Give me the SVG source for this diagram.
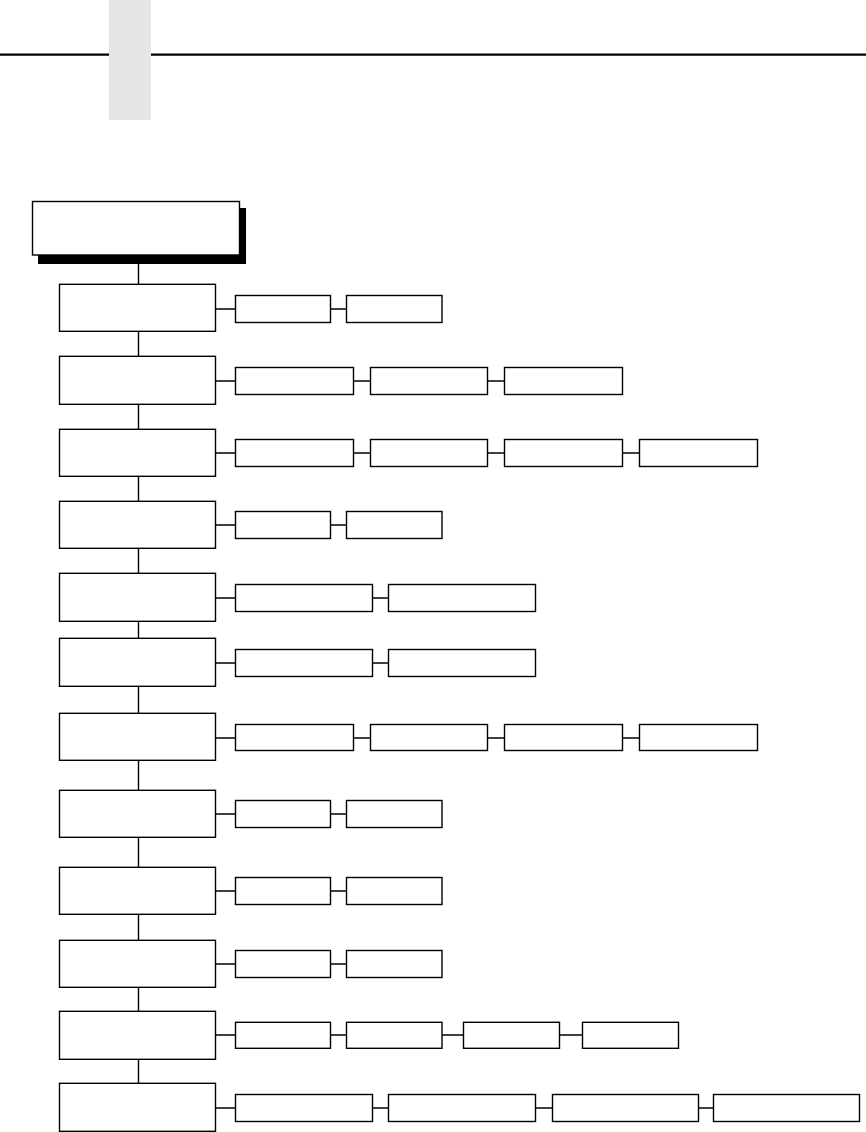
<svg xmlns="http://www.w3.org/2000/svg" width="866" height="1132" viewBox="0 0 866 1132">
<style>
.box{fill:#fff;stroke:#000;stroke-width:1.4}
.c{stroke:#000;stroke-width:1.4;fill:none}
</style>
<rect x="0" y="0" width="866" height="1132" fill="#fff"/>
<g id="header">
<line x1="0" y1="54.7" x2="866" y2="54.7" stroke="#000" stroke-width="2.3"/>
<rect x="109" y="0" width="42" height="120" fill="#e6e6e6"/>
</g>
<g id="connectors" class="c">
<line x1="138.5" y1="255" x2="138.5" y2="1084"/>
<line x1="215.5" y1="309" x2="442" y2="309"/>
<line x1="215.5" y1="381" x2="622.5" y2="381"/>
<line x1="215.5" y1="453" x2="757.5" y2="453"/>
<line x1="215.5" y1="525" x2="442" y2="525"/>
<line x1="215.5" y1="598" x2="535.5" y2="598"/>
<line x1="215.5" y1="663" x2="535.5" y2="663"/>
<line x1="215.5" y1="738" x2="757.5" y2="738"/>
<line x1="215.5" y1="814" x2="442" y2="814"/>
<line x1="215.5" y1="891" x2="442" y2="891"/>
<line x1="215.5" y1="964" x2="442" y2="964"/>
<line x1="215.5" y1="1035" x2="678.5" y2="1035"/>
<line x1="215.5" y1="1108" x2="859.5" y2="1108"/>
</g>
<g id="root">
<rect x="38" y="208" width="208" height="56" fill="#000"/>
<rect class="box" x="32.5" y="201.5" width="207" height="53.5"/>
</g>
<g id="level1">
<rect id="n1" class="box" x="59.5" y="284.3" width="156" height="47"/>
<rect id="n2" class="box" x="59.5" y="356.3" width="156" height="48"/>
<rect id="n3" class="box" x="59.5" y="429.3" width="156" height="47"/>
<rect id="n4" class="box" x="59.5" y="501.3" width="156" height="47"/>
<rect id="n5" class="box" x="59.5" y="573.3" width="156" height="48"/>
<rect id="n6" class="box" x="59.5" y="638.3" width="156" height="48"/>
<rect id="n7" class="box" x="59.5" y="713.3" width="156" height="47"/>
<rect id="n8" class="box" x="59.5" y="790.3" width="156" height="47"/>
<rect id="n9" class="box" x="59.5" y="867.3" width="156" height="47"/>
<rect id="n10" class="box" x="59.5" y="940.3" width="156" height="47"/>
<rect id="n11" class="box" x="59.5" y="1011.3" width="156" height="48"/>
<rect id="n12" class="box" x="59.5" y="1083.3" width="156" height="48"/>
</g>
<g id="row1"><rect class="box" x="235.5" y="295.5" width="95" height="27"/><rect class="box" x="346.5" y="295.5" width="95.5" height="27"/></g>
<g id="row2"><rect class="box" x="235.5" y="367.5" width="118" height="27"/><rect class="box" x="370.5" y="367.5" width="117" height="27"/><rect class="box" x="504.5" y="367.5" width="118" height="27"/></g>
<g id="row3"><rect class="box" x="235.5" y="439.5" width="118" height="27"/><rect class="box" x="370.5" y="439.5" width="117" height="27"/><rect class="box" x="504.5" y="439.5" width="118" height="27"/><rect class="box" x="639.5" y="439.5" width="118" height="27"/></g>
<g id="row4"><rect class="box" x="235.5" y="511.5" width="95" height="27"/><rect class="box" x="346.5" y="511.5" width="95.5" height="27"/></g>
<g id="row5"><rect class="box" x="235.5" y="584.5" width="137" height="27"/><rect class="box" x="388.5" y="584.5" width="147" height="27"/></g>
<g id="row6"><rect class="box" x="235.5" y="649.5" width="137" height="27"/><rect class="box" x="388.5" y="649.5" width="147" height="27"/></g>
<g id="row7"><rect class="box" x="235.5" y="724.5" width="118" height="26"/><rect class="box" x="370.5" y="724.5" width="117" height="26"/><rect class="box" x="504.5" y="724.5" width="118" height="26"/><rect class="box" x="639.5" y="724.5" width="118" height="26"/></g>
<g id="row8"><rect class="box" x="235.5" y="800.5" width="95" height="27"/><rect class="box" x="346.5" y="800.5" width="95.5" height="27"/></g>
<g id="row9"><rect class="box" x="235.5" y="877.5" width="95" height="27"/><rect class="box" x="346.5" y="877.5" width="95.5" height="27"/></g>
<g id="row10"><rect class="box" x="235.5" y="950.5" width="95" height="27"/><rect class="box" x="346.5" y="950.5" width="95.5" height="27"/></g>
<g id="row11"><rect class="box" x="235.5" y="1022.3" width="95" height="26"/><rect class="box" x="346.5" y="1022.3" width="95.5" height="26"/><rect class="box" x="463.5" y="1022.3" width="96" height="26"/><rect class="box" x="582.5" y="1022.3" width="96" height="26"/></g>
<g id="row12"><rect class="box" x="235.5" y="1094.5" width="137" height="27"/><rect class="box" x="388.5" y="1094.5" width="147" height="27"/><rect class="box" x="552.5" y="1094.5" width="146" height="27"/><rect class="box" x="713.5" y="1094.5" width="146" height="27"/></g>
</svg>
